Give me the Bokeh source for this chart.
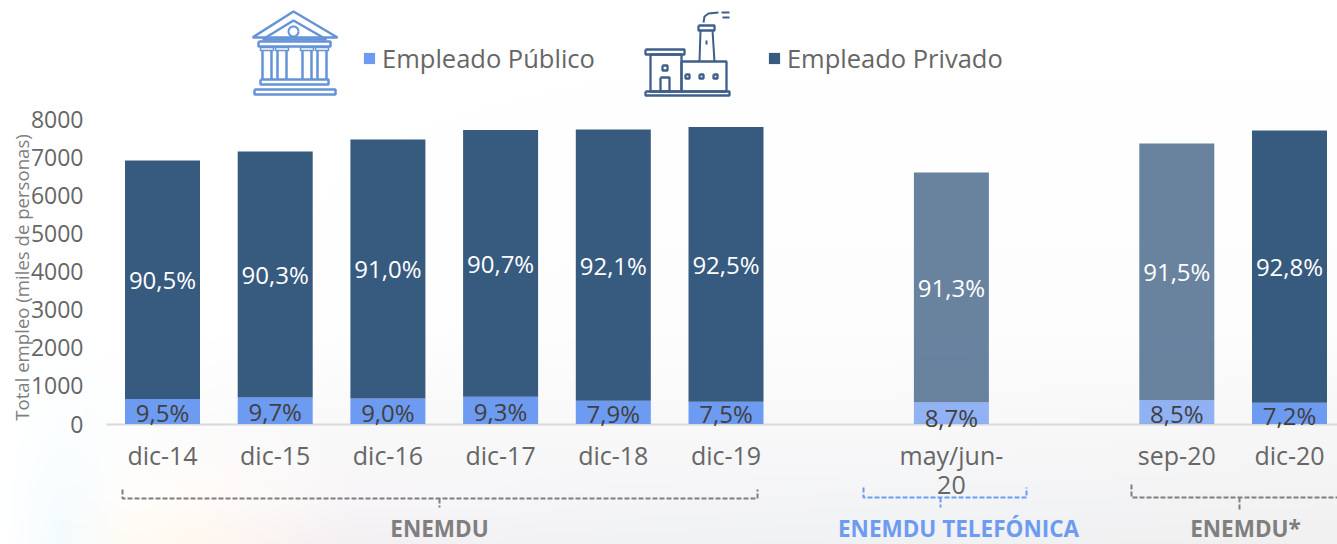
import numpy as np
from bokeh.core.properties import value
from bokeh.embed import file_html
from bokeh.models import (ColumnDataSource, FixedTicker, Label, Legend, LegendItem,
                          LinearAxis, Range1d)
from bokeh.plotting import figure
from bokeh.resources import INLINE

categories = ["dic-14", "dic-15", "dic-16", "dic-17", "dic-18", "dic-19", "may/jun-\n20", "sep-20", "dic-20"]
slots = [0, 1, 2, 3, 4, 5, 7, 9, 10]
publico = [657, 694, 672, 718, 611, 585, 574, 626, 555]
privado = [6259, 6458, 6795, 6998, 7119, 7210, 6027, 6736, 7148]
pct_publico = ["9,5%", "9,7%", "9,0%", "9,3%", "7,9%", "7,5%", "8,7%", "8,5%", "7,2%"]
pct_privado = ["90,5%", "90,3%", "91,0%", "90,7%", "92,1%", "92,5%", "91,3%", "91,5%", "92,8%"]
y_ticks = [0, 1000, 2000, 3000, 4000, 5000, 6000, 7000, 8000]

FONT = "Open Sans"
DARK, LIGHT = "#375A7F", "#6D9BF1"
W, H = 1337, 544
AXIS_X = 106
Y0, PX_PER_UNIT = 423.5, 0.0381
X0, PX_PER_SLOT = 162.0, 112.7

x_range = Range1d(-X0 / PX_PER_SLOT, (W - X0) / PX_PER_SLOT)
y_range = Range1d((Y0 - H) / PX_PER_UNIT, Y0 / PX_PER_UNIT)
axis_slot = (AXIS_X - X0) / PX_PER_SLOT

p = figure(width=W, height=H, output_backend="svg", toolbar_location=None,
           x_range=x_range, y_range=y_range, x_axis_type=None, y_axis_type=None,
           min_border_left=0, min_border_right=0, min_border_top=0, min_border_bottom=0,
           background_fill_color="#ffffff", border_fill_color="#ffffff", outline_line_color=None)
p.grid.visible = False
p.extra_x_ranges["px"] = Range1d(0, W)
p.extra_y_ranges["px"] = Range1d(H, 0)

# Faint page backdrop: colours at a few places, blended between them
bg_x = [0, 60, 130, 200, 350, 600, 900, 1337]
bg_y = [0, 330, 430, 500, 544]
bg_hex = [
    ["FFFFFF"] * 8,
    ["FFFFFF", "FFFFFF", "FFFFFF", "FFFFFF", "FEFEFE", "FDFDFE", "FDFDFE", "FDFDFD"],
    ["FFFFFF", "FBFEFF", "FDFDFD", "FCFBFB", "F9F8F9", "F8F8F9", "F8F8F9", "F6F6F7"],
    ["FFFFFF", "F6FCFE", "FFFDFB", "FFFBF8", "F8F6F8", "F5F5F7", "F3F4F6", "F3F3F4"],
    ["FFFFFF", "F4FBFD", "FFFBF3", "FFF7F0", "F4F0F3", "F1F2F4", "F0F1F3", "F0F0F0"],
]
bg_rgb = np.array([[[int(c[i:i + 2], 16) for i in (0, 2, 4)] for c in row] for row in bg_hex], float)
xx, yy = np.arange(0, W + 4, 4), np.arange(H, -4, -4)
rows = np.stack([[np.interp(xx, bg_x, bg_rgb[r, :, k]) for k in range(3)] for r in range(5)])  # row, channel, x
bg = np.zeros((len(yy), len(xx), 3))
for k in range(3):
    for j in range(len(xx)):
        bg[:, j, k] = np.interp(yy, bg_y, rows[:, k, j])
rgba = np.dstack([bg.round().astype(np.uint8), np.full(bg.shape[:2], 255, np.uint8)])
img = rgba.view(np.uint32).reshape(rgba.shape[:2]).copy()
p.image_rgba(image=[img], x=x_range.start, y=y_range.start,
             dw=x_range.end - x_range.start, dh=y_range.end - y_range.start, level="image")

pub = np.array(publico, float)
pri = np.array(privado, float)
faded = [c in ("may/jun-\n20", "sep-20") for c in categories]
src = ColumnDataSource(dict(
    x=slots, pub=pub, top=pub + pri,
    alpha=[0.75 if f else 1.0 for f in faded],
    pub_mid=pub / 2, pri_mid=pub + pri / 2,
    pct_pub=pct_publico, pct_pri=pct_privado,
    nudge=[1, 1, 1, 1, 1, 1, 4, 1, 2],
))

r_pub = p.vbar(x="x", bottom=0, top="pub", width=75 / PX_PER_SLOT, source=src,
               fill_color=LIGHT, fill_alpha="alpha", line_color=None)
r_pri = p.vbar(x="x", bottom="pub", top="top", width=75 / PX_PER_SLOT, source=src,
               fill_color=DARK, fill_alpha="alpha", line_color=None)

p.text(x="x", y="pri_mid", text="pct_pri", source=src, text_font=value(FONT), text_font_size="24px",
       text_color="#ffffff", text_align="center", text_baseline="middle", y_offset=0)
p.text(x="x", y="pub_mid", text="pct_pub", source=src, text_font=value(FONT), text_font_size="24px",
       text_color="#404040", text_align="center", text_baseline="middle", y_offset="nudge")

xaxis = LinearAxis(fixed_location=0, ticker=FixedTicker(ticks=slots), bounds=(axis_slot, x_range.end),
                   major_label_overrides=dict(zip(slots, categories)),
                   major_tick_line_color=None, minor_tick_line_color=None,
                   axis_line_color="#D9D9D9", axis_line_width=2,
                   major_label_text_font=FONT, major_label_text_font_size="25px",
                   major_label_text_color="#666666", major_label_standoff=8,
                   major_label_text_line_height=0.85, level="underlay")
p.add_layout(xaxis, "below")
yaxis = LinearAxis(fixed_location=axis_slot, ticker=FixedTicker(ticks=y_ticks),
                   major_tick_line_color=None, minor_tick_line_color=None, axis_line_color=None,
                   major_label_text_font=FONT, major_label_text_font_size="23px",
                   major_label_text_color="#666666", major_label_standoff=17)
p.add_layout(yaxis, "left")

p.add_layout(Label(x=21, y=H - 277, x_units="screen", y_units="screen", angle=np.pi / 2,
                   text="Total empleo (miles de personas)", text_font=FONT, text_font_size="18.6px",
                   text_color="#7F7F7F", text_align="center", text_baseline="middle"))

legend = Legend(items=[LegendItem(label="Empleado Público", renderers=[r_pub]),
                       LegendItem(label="Empleado Privado", renderers=[r_pri])],
                orientation="horizontal", location=(362, 469), spacing=172, padding=0, margin=0,
                glyph_width=14, glyph_height=14, label_standoff=6, label_text_font=FONT,
                label_text_font_size="25.5px", label_text_color="#666666",
                background_fill_alpha=0, border_line_color=None)
p.add_layout(legend)

def px_lines(xs, ys, color, width=2, dash="solid"):
    p.multi_line(xs=xs, ys=ys, line_color=color, line_width=width, line_dash=dash,
                 x_range_name="px", y_range_name="px")

def rects(boxes, color, width=2):
    xs = [[a, b, b, a, a] for a, t, b, u in boxes]
    ys = [[t, t, u, u, t] for a, t, b, u in boxes]
    px_lines(xs, ys, color, width)

# Bank icon
BANK = "#6593D8"
px_lines([[252, 293, 337, 252], [262, 293, 326, 262]], [[37, 11, 37, 37], [39, 20, 39, 39]], BANK, 2.5)
rects([(258, 41, 330, 46), (260, 79, 328, 84), (254, 89, 335, 94)], BANK, 2.5)
col_x = [262, 277, 302, 317]
px_lines([[c, c] for c in col_x] + [[c + 9, c + 9] for c in col_x],
         [[50, 79]] * 8, BANK, 2.5)
rects([(c - 2, 47, c + 11, 50) for c in col_x], BANK, 1.5)
th = np.linspace(0, 2 * np.pi, 24)
px_lines([list(293 + 5 * np.cos(th))], [list(31 + 5 * np.sin(th))], BANK, 2)

# Factory icon
FAC = "#3F5F8A"
rects([(645, 49, 684, 54), (650, 54, 681, 91), (681, 61, 726, 91), (645, 91, 729, 95),
       (698, 25, 714, 30), (660, 77, 669, 91), (662, 65, 667, 70),
       (685, 74, 689, 78), (699, 74, 703, 78), (713, 74, 717, 78)], FAC, 2.3)
px_lines([[700, 699], [712, 714], [706, 706]], [[30, 61], [30, 61], [40, 44]], FAC, 2)
px_lines([[703, 704, 708, 718], [721, 729], [722, 729]], [[22, 16, 13, 12], [12, 12], [17, 17]], FAC, 2)

# Group brackets
GREY = "#7F7F7F"
px_lines([[122, 122, 757, 757], [439, 439]], [[489, 498, 498, 489], [498, 507]], GREY, 2, "5 2")
px_lines([[863, 863, 1026, 1026], [940, 940]], [[487, 497, 497, 487], [497, 507]], LIGHT, 2, "5 2")
px_lines([[1131, 1131, 1337], [1239, 1239]], [[484, 497, 497], [497, 510]], GREY, 2, "5 2")

p.text(x=[439, 958, 1245], y=[528, 528, 528], text=["ENEMDU", "ENEMDU TELEFÓNICA", "ENEMDU*"],
       x_range_name="px", y_range_name="px", text_font=value(FONT), text_font_style="bold",
       text_font_size="22.5px", text_color=[GREY, LIGHT, GREY], text_align="center", text_baseline="middle")

open("out.html", "w").write(file_html(p, INLINE))
